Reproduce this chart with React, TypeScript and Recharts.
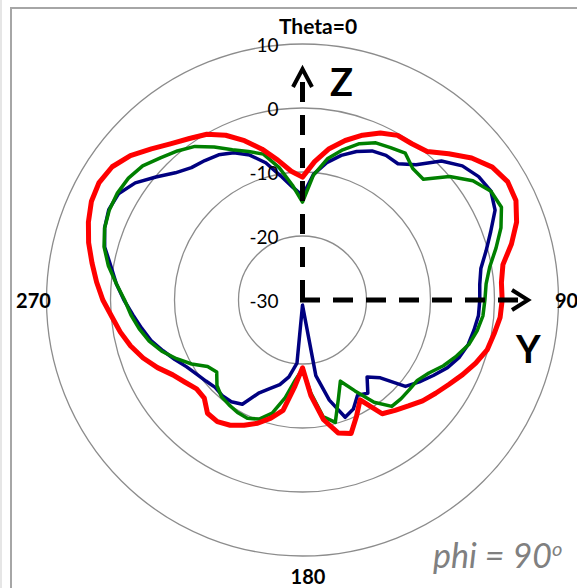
import React from 'react';
import { RadarChart, Radar, PolarGrid, PolarAngleAxis, PolarRadiusAxis } from 'recharts';

// Theta in degrees (5 degree steps)
const angles = [
  0, 5, 10, 15, 20, 25, 30, 35, 40, 45, 50, 55, 60, 65, 70, 75, 80, 85,
  90, 95, 100, 105, 110, 115, 120, 125, 130, 135, 140, 145, 150, 155, 160, 165, 170, 175,
  180, 185, 190, 195, 200, 205, 210, 215, 220, 225, 230, 235, 240, 245, 250, 255, 260, 265,
  270, 275, 280, 285, 290, 295, 300, 305, 310, 315, 320, 325, 330, 335, 340, 345, 350, 355,
];

const redValues = [
  -10.8, -8.3, -6.0, -4.2, -2.6, -1.2, -0.3, -0.2, 0.3, 2.3, 4.5, 6.2, 7.0, 6.8, 5.6, 3.8, 1.8, 1.2,
  1.2, 1.0, 0.4, -0.1, -1.2, -2.4, -3.6, -4.6, -5.5, -6.6, -7.5, -8.3, -12.0, -10.0, -7.8, -8.5, -11.0, -15.0,
  -19.4, -16.5, -12.5, -10.9, -9.5, -8.4, -7.4, -6.8, -6.9, -8.3, -8.4, -7.6, -6.6, -5.0, -3.5, -2.2, -1.1, -0.1,
  1.2, 2.3, 3.4, 4.6, 5.6, 6.4, 6.7, 6.3, 5.1, 3.4, 1.9, 0.8, -0.1, -1.6, -3.5, -5.6, -7.8, -9.8,
];

const blueValues = [
  -13.7, -10.3, -8.2, -6.6, -5.3, -4.3, -3.9, -4.0, -2.4, 0.7, 2.6, 3.6, 4.0, 3.2, 1.3, -0.3, -1.7, -2.2,
  -2.3, -2.4, -2.8, -3.2, -3.9, -5.0, -6.4, -7.7, -9.0, -12.8, -14.3, -12.2, -12.8, -11.2, -10.5, -13.8, -18.0, -28.5,
  -29.2, -20.1, -17.8, -16.3, -15.3, -14.0, -11.2, -10.6, -10.5, -10.7, -10.3, -9.8, -9.1, -8.0, -6.8, -5.5, -4.5, -3.4,
  -2.1, -0.8, 0.4, 2.0, 2.9, 3.4, 3.2, 1.9, -0.1, -1.9, -3.0, -3.4, -3.8, -4.6, -5.9, -7.8, -10.3, -12.3,
];

const greenValues = [
  -14.7, -10.4, -7.6, -5.7, -4.0, -2.9, -2.5, -2.0, -3.2, -3.3, 0.0, 2.5, 4.0, 4.3, 3.0, 1.3, -0.3, -1.2,
  -1.5, -1.7, -2.3, -3.1, -4.4, -5.7, -7.2, -8.1, -8.2, -8.2, -8.3, -10.5, -13.6, -16.0, -13.6, -10.2, -11.5, -15.5,
  -19.2, -17.5, -14.5, -11.7, -10.2, -9.6, -9.7, -10.0, -10.3, -11.1, -12.5, -11.9, -10.0, -8.3, -6.6, -5.2, -4.1, -3.1,
  -2.2, -0.8, 0.8, 2.1, 2.9, 3.3, 3.4, 3.2, 2.6, 1.4, 0.4, -0.7, -2.4, -4.1, -5.3, -6.4, -9.0, -12.0,
];

const radialTicks = [-30, -20, -10, 0, 10];
const angleLabelNames = ['Theta=0', '90', '180', '270'];
const angleLabelAngles = [0, 90, 180, 270];

const data = angles.map((a, i) => ({
  angle: a,
  red: redValues[i],
  blue: blueValues[i],
  green: greenValues[i],
}));

const W = 577;
const H = 588;
const CX = 302.5;
const CY = 300;
const R = 256;
const FONT = 'Lato, "Open Sans", "Liberation Sans", sans-serif';

const labelOffsets: Record<number, { dx: number; dy: number; anchor: string; size: number }> = {
  0: { dx: 15.5, dy: -11, anchor: 'middle', size: 21 },
  90: { dx: 0, dy: 0, anchor: 'middle', size: 20 },
  180: { dx: 5.5, dy: 12, anchor: 'middle', size: 20 },
  270: { dx: -5, dy: 0, anchor: 'middle', size: 20 },
};

const AngleTick = (props: any) => {
  const { x, y, payload } = props;
  const idx = angleLabelAngles.indexOf(Number(payload.value));
  if (idx < 0) return <g />;
  const off = labelOffsets[angleLabelAngles[idx]];
  return (
    <text
      x={x + off.dx}
      y={y + off.dy}
      textAnchor={off.anchor}
      dominantBaseline="central"
      fontFamily={FONT}
      fontWeight="bold"
      fontSize={off.size}
      fill="#000"
    >
      {angleLabelNames[idx]}
    </text>
  );
};

const RadiusTick = (props: any) => {
  const { x, y, payload } = props;
  return (
    <text
      x={x - 24}
      y={y}
      textAnchor="end"
      dominantBaseline="central"
      fontFamily={FONT}
      fontSize={19}
      fill="#000"
    >
      {payload.value}
    </text>
  );
};

export default function App() {
  const vTop = 69;
  const hRight = 528;
  return (
    <div style={{ position: 'absolute', left: 0, top: 0, width: W, height: H, background: '#fff' }}>
      <svg width={W} height={H} style={{ position: 'absolute', left: 0, top: 0 }}>
        <rect x={0} y={0} width={2} height={H} fill="#e6e6e6" />
        <rect x={11} y={8} width={W + 20} height={H + 20} fill="none" stroke="#a6a6a6" strokeWidth={2} />
      </svg>
      <div style={{ position: 'absolute', left: 0, top: 0 }}>
        <RadarChart
          width={W}
          height={H}
          data={data}
          cx={CX}
          cy={CY}
          outerRadius={R}
          innerRadius={0}
          startAngle={90}
          endAngle={-270}
          margin={{ top: 0, right: 0, bottom: 0, left: 0 }}
        >
          <PolarGrid gridType="circle" radialLines={false} stroke="#8c8c8c" strokeWidth={1.3} />
          <PolarAngleAxis
            dataKey="angle"
            type="category"
            tick={AngleTick}
            tickLine={false}
            axisLine={false}
          />
          <PolarRadiusAxis
            angle={90}
            type="number"
            domain={[-30, 10]}
            ticks={radialTicks}
            tickCount={5}
            axisLine={false}
            tickLine={false}
            tick={RadiusTick}
          />
          <Radar
            dataKey="blue"
            stroke="#000080"
            strokeWidth={3.5}
            fill="none"
            fillOpacity={0}
            dot={false}
            strokeLinejoin="round"
            isAnimationActive={false}
          />
          <Radar
            dataKey="green"
            stroke="#008000"
            strokeWidth={3.5}
            fill="none"
            fillOpacity={0}
            dot={false}
            strokeLinejoin="round"
            isAnimationActive={false}
          />
          <Radar
            dataKey="red"
            stroke="#ff0000"
            strokeWidth={5}
            fill="none"
            fillOpacity={0}
            dot={false}
            strokeLinejoin="round"
            isAnimationActive={false}
          />
        </RadarChart>
      </div>
      <svg width={W} height={H} style={{ position: 'absolute', left: 0, top: 0, pointerEvents: 'none' }}>
        <line x1={CX} y1={CY} x2={CX} y2={vTop + 4} stroke="#000" strokeWidth={5} strokeDasharray="20 13" />
        <polyline
          points={`${CX - 9.5},${vTop + 18} ${CX},${vTop} ${CX + 9.5},${vTop + 18}`}
          fill="none"
          stroke="#000"
          strokeWidth={4}
        />
        <line x1={CX - 2.5} y1={CY} x2={hRight - 4} y2={CY} stroke="#000" strokeWidth={5} strokeDasharray="20 13" />
        <polyline
          points={`${hRight - 16},${CY - 10} ${hRight},${CY} ${hRight - 16},${CY + 10}`}
          fill="none"
          stroke="#000"
          strokeWidth={4}
        />
        <text x={330} y={96} fontFamily={FONT} fontWeight="bold" fontSize={38} fill="#000">
          Z
        </text>
        <text x={516} y={363} fontFamily={FONT} fontWeight="bold" fontSize={38} fill="#000">
          Y
        </text>
        <text x={433} y={568} fontFamily={FONT} fontStyle="italic" fontSize={34} fill="#808080">
          phi = 90
          <tspan fontSize={20} dy={-12}>
            o
          </tspan>
        </text>
      </svg>
    </div>
  );
}
